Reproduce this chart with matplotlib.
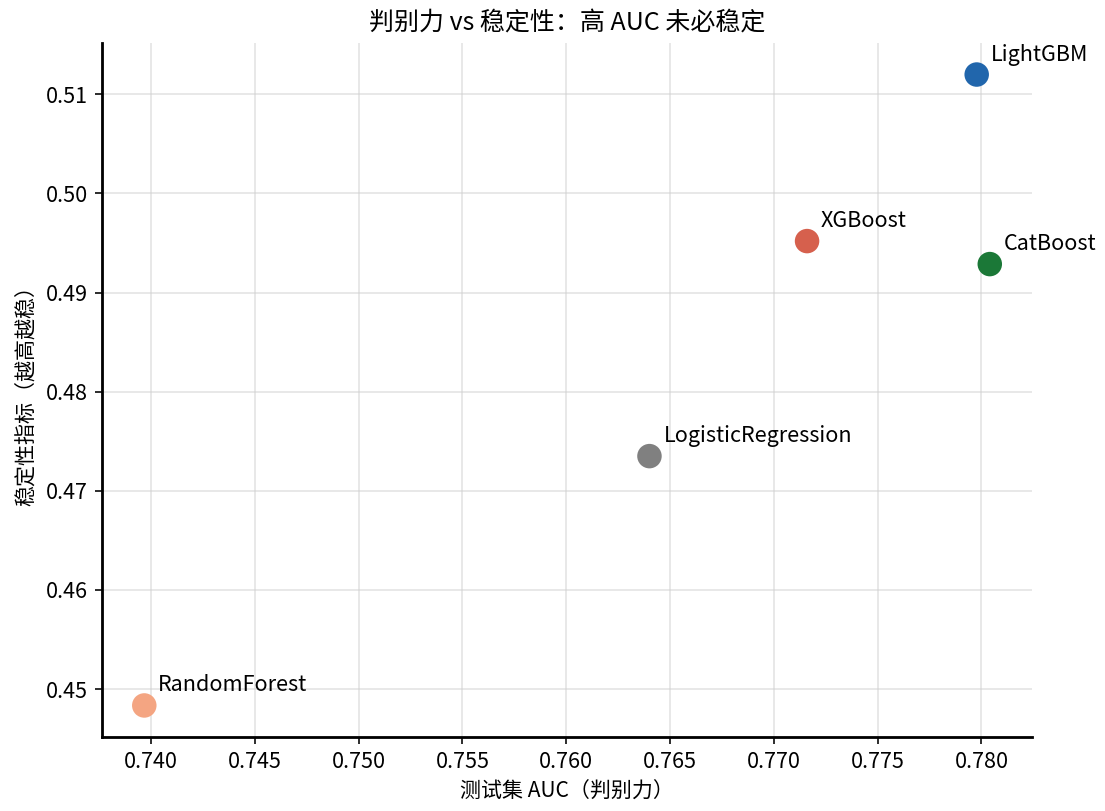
import matplotlib
matplotlib.use("Agg")
import matplotlib.pyplot as plt

models = ["LightGBM", "CatBoost", "XGBoost", "LogisticRegression", "RandomForest"]
test_auc = [0.77977, 0.78040, 0.77160, 0.76401, 0.73968]
stability = [0.51199, 0.49287, 0.49519, 0.47350, 0.44835]
colors = ["#2166ac", "#1b7837", "#d6604d", "#808080", "#f4a582"]

plt.rcParams['font.family'] = ['Noto Sans CJK SC', 'DejaVu Sans']
plt.rcParams['axes.unicode_minus'] = False

fig, ax = plt.subplots(figsize=(7.674, 5.632), dpi=144)
fig.subplots_adjust(left=102/1105, right=1032/1105, top=1-43/811, bottom=1-737/811)
ax.scatter(test_auc, stability, s=150, c=colors, edgecolors='none', zorder=3)
for m, x, y in zip(models, test_auc, stability):
    ax.annotate(m, (x, y), xytext=(7, 7), textcoords='offset points', fontsize=10.8)

ax.set_title("判别力 vs 稳定性：高 AUC 未必稳定", fontsize=12.5, pad=6)
ax.set_xlabel("测试集 AUC（判别力）", fontsize=10.5, labelpad=4)
ax.set_ylabel("稳定性指标（越高越稳）", fontsize=10.5, labelpad=4)
ax.tick_params(labelsize=10.8)
ax.grid(True, color='#d0d0d0', alpha=0.6, linewidth=0.8)
ax.set_axisbelow(True)
for s in ['top', 'right']:
    ax.spines[s].set_visible(False)
for s in ['left', 'bottom']:
    ax.spines[s].set_linewidth(1.4)
fig.savefig("out.png", dpi=144)
